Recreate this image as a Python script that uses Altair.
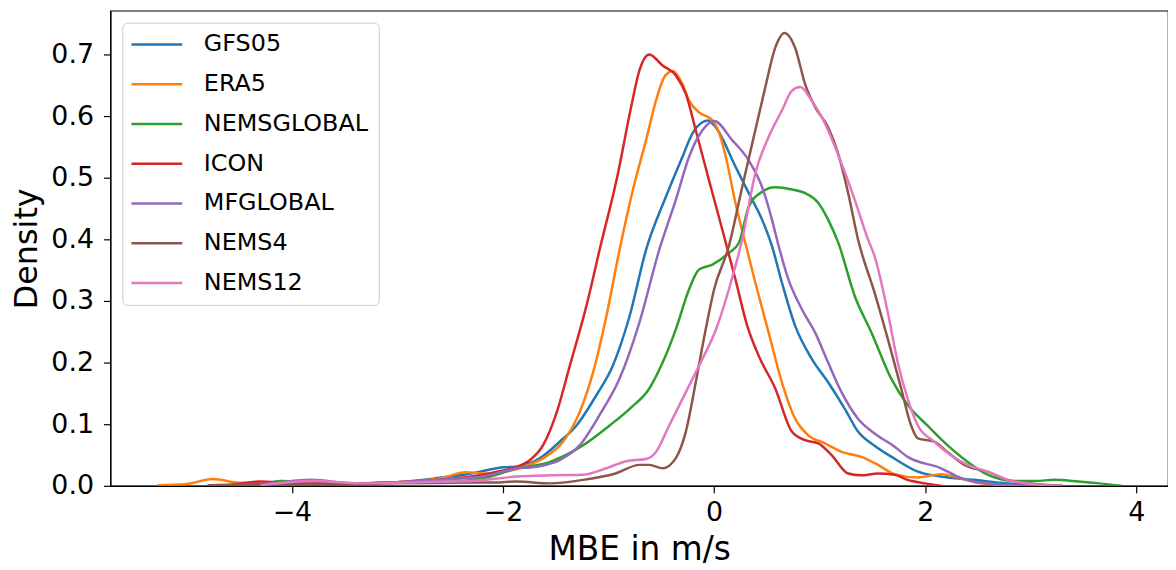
import altair as alt
import pandas as pd

series = ["GFS05", "ERA5", "NEMSGLOBAL", "ICON", "MFGLOBAL", "NEMS4", "NEMS12"]
colors = ["#1f77b4", "#ff7f0e", "#2ca02c", "#d62728", "#9467bd", "#8c564b", "#e377c2"]

gfs05_x = [-4.4, -4.0, -3.5, -3.0, -2.6, -2.3, -2.0, -1.87, -1.65, -1.46, -1.304, -1.116, -0.96, -0.80,
           -0.645, -0.457, -0.3, -0.205, -0.111, -0.06, 0.014, 0.202, 0.328, 0.454, 0.548, 0.642, 0.767,
           0.925, 1.08, 1.238, 1.363, 1.52, 1.71, 1.93, 2.15, 2.46, 2.78, 3.0, 3.2]
gfs05_y = [0.001, 0.004, 0.004, 0.006, 0.013, 0.02, 0.03, 0.031, 0.045, 0.072, 0.098, 0.147, 0.195, 0.276,
           0.383, 0.469, 0.534, 0.572, 0.59, 0.593, 0.582, 0.518, 0.475, 0.432, 0.389, 0.33, 0.26,
           0.206, 0.168, 0.125, 0.088, 0.065, 0.044, 0.023, 0.015, 0.0097, 0.004, 0.002, 0.0]

era5_x = [-5.27, -5.0, -4.75, -4.5, -4.0, -3.5, -3.0, -2.6, -2.35, -2.15, -1.95, -1.806, -1.618, -1.43,
          -1.273, -1.147, -1.02, -0.896, -0.77, -0.645, -0.551, -0.473, -0.394, -0.3, -0.237, -0.143,
          -0.017, 0.061, 0.108, 0.202, 0.297, 0.39, 0.516, 0.642, 0.767, 0.893, 1.05, 1.207, 1.395,
          1.552, 1.71, 1.93, 2.15, 2.34, 2.53, 2.75, 2.9]
era5_y = [0.001, 0.003, 0.011, 0.005, 0.003, 0.004, 0.006, 0.012, 0.022, 0.02, 0.024, 0.031, 0.045, 0.072,
          0.12, 0.184, 0.276, 0.383, 0.48, 0.561, 0.625, 0.663, 0.673, 0.652, 0.625, 0.606,
          0.593, 0.566, 0.536, 0.459, 0.393, 0.33, 0.249, 0.168, 0.109, 0.082, 0.069, 0.055, 0.047,
          0.034, 0.019, 0.0135, 0.019, 0.012, 0.004, 0.001, 0.0]

nemsglobal_x = [-4.3, -4.1, -3.8, -3.5, -3.0, -2.6, -2.2, -1.87, -1.555, -1.24, -0.99, -0.80, -0.614,
                -0.488, -0.363, -0.237, -0.143, -0.017, 0.14, 0.234, 0.328, 0.454, 0.579, 0.736, 0.862,
                0.987, 1.08, 1.175, 1.332, 1.49, 1.678, 1.834, 2.02, 2.21, 2.40, 2.59, 2.84, 3.05, 3.22,
                3.45, 3.65, 3.86]
nemsglobal_y = [0.001, 0.008, 0.004, 0.003, 0.005, 0.006, 0.012, 0.028, 0.039, 0.066, 0.098, 0.125, 0.158,
                0.2, 0.254, 0.319, 0.351, 0.359, 0.378, 0.394, 0.453, 0.477, 0.4845, 0.481, 0.475,
                0.459, 0.432, 0.395, 0.308, 0.249, 0.174, 0.131, 0.098, 0.066, 0.039, 0.018, 0.008, 0.008,
                0.0097, 0.007, 0.004, 0.0]

icon_x = [-4.6, -4.3, -4.0, -3.5, -3.0, -2.6, -2.3, -2.0, -1.87, -1.744, -1.62, -1.49, -1.367, -1.21,
          -1.085, -0.911, -0.786, -0.708, -0.614, -0.488, -0.363, -0.268, -0.174, -0.049, 0.077, 0.202,
          0.313, 0.422, 0.579, 0.736, 0.862, 0.987, 1.113, 1.27, 1.395, 1.55, 1.71, 1.834, 2.0, 2.15]
icon_y = [0.001, 0.007, 0.004, 0.004, 0.006, 0.01, 0.015, 0.025, 0.031, 0.042, 0.066, 0.12, 0.195, 0.292,
          0.383, 0.507, 0.615, 0.674, 0.700, 0.682, 0.666, 0.636, 0.577, 0.496, 0.416, 0.335,
          0.26, 0.211, 0.158, 0.088, 0.074, 0.069, 0.050, 0.020, 0.017, 0.020, 0.018, 0.0097, 0.004, 0.0]

mfglobal_x = [-4.5, -4.2, -3.82, -3.4, -3.0, -2.6, -2.2, -1.87, -1.68, -1.46, -1.273, -1.085, -0.896,
              -0.708, -0.52, -0.363, -0.237, -0.111, 0.0, 0.171, 0.328, 0.454, 0.548, 0.61, 0.704, 0.83,
              0.956, 1.08, 1.207, 1.363, 1.52, 1.71, 1.834, 2.15, 2.34, 2.56, 2.9, 3.3]
mfglobal_y = [0.001, 0.004, 0.0097, 0.004, 0.006, 0.01, 0.015, 0.028, 0.031, 0.042, 0.066, 0.115, 0.174,
              0.265, 0.383, 0.464, 0.534, 0.577, 0.592, 0.561, 0.528, 0.485, 0.432, 0.39, 0.335, 0.287,
              0.249, 0.2, 0.152, 0.109, 0.085, 0.0635, 0.047, 0.0285, 0.0124, 0.0044, 0.001, 0.0]

nems4_x = [-4.8, -4.0, -3.0, -2.5, -2.0, -1.87, -1.555, -1.24, -0.927, -0.708, -0.614, -0.488, -0.363,
           -0.268, -0.174, -0.08, 0.0, 0.14, 0.266, 0.39, 0.485, 0.579, 0.667, 0.767, 0.862, 0.956, 1.08,
           1.175, 1.27, 1.363, 1.52, 1.646, 1.772, 1.866, 1.93, 2.086, 2.21, 2.37, 2.59, 2.78, 3.0, 3.3]
nems4_y = [0.001, 0.003, 0.004, 0.005, 0.006, 0.007, 0.004, 0.0097, 0.0205, 0.034, 0.034, 0.0285, 0.045,
           0.088, 0.168, 0.254, 0.319, 0.389, 0.485, 0.577, 0.647, 0.711, 0.735, 0.711, 0.652, 0.615, 0.582,
           0.539, 0.475, 0.40, 0.3135, 0.238, 0.158, 0.098, 0.077, 0.0716, 0.055, 0.034, 0.023, 0.0097,
           0.004, 0.0]

nems12_x = [-4.3, -3.8, -3.3, -2.8, -2.3, -1.87, -1.555, -1.24, -1.02, -0.833, -0.645, -0.551, -0.426,
            -0.268, -0.111, 0.014, 0.14, 0.266, 0.39, 0.516, 0.642, 0.736, 0.815, 0.925, 1.05, 1.207,
            1.332, 1.458, 1.52, 1.646, 1.74, 1.834, 1.93, 2.086, 2.24, 2.40, 2.59, 2.78, 3.0, 3.3]
nems12_y = [0.001, 0.008, 0.004, 0.006, 0.008, 0.015, 0.017, 0.018, 0.0285, 0.04, 0.0435, 0.055, 0.098,
            0.152, 0.206, 0.252, 0.319, 0.40, 0.507, 0.566, 0.609, 0.641, 0.647, 0.625, 0.588, 0.523,
            0.464, 0.40, 0.3726, 0.281, 0.2, 0.141, 0.098, 0.0716, 0.05, 0.034, 0.023, 0.0097, 0.003, 0.0]

x_ticks = [-4, -2, 0, 2, 4]
y_ticks = [0.0, 0.1, 0.2, 0.3, 0.4, 0.5, 0.6, 0.7]

all_x = [gfs05_x, era5_x, nemsglobal_x, icon_x, mfglobal_x, nems4_x, nems12_x]
all_y = [gfs05_y, era5_y, nemsglobal_y, icon_y, mfglobal_y, nems4_y, nems12_y]

rows = []
for name, xs, ys in zip(series, all_x, all_y):
    for xv, yv in zip(xs, ys):
        rows.append({"model": name, "mbe": xv, "density": yv})
df = pd.DataFrame(rows)

FONT = "DejaVu Sans"

chart = (
    alt.Chart(df)
    .mark_line(strokeWidth=2.5, interpolate="monotone", clip=True)
    .encode(
        x=alt.X(
            "mbe:Q",
            scale=alt.Scale(domain=[-5.72, 4.30], nice=False, zero=False),
            axis=alt.Axis(values=x_ticks, format="d", title="MBE in m/s",
                          labelPadding=7, titlePadding=8, labelFlush=False),
        ),
        y=alt.Y(
            "density:Q",
            scale=alt.Scale(domain=[0, 0.771], nice=False, zero=False),
            axis=alt.Axis(values=y_ticks, format=".1f", title="Density",
                          labelPadding=10, titlePadding=7, labelFlush=False,
                          titleFontSize=32),
        ),
        color=alt.Color(
            "model:N",
            scale=alt.Scale(domain=series, range=colors),
            legend=alt.Legend(
                title=None, orient="top-left", offset=12, padding=10,
                symbolType="M-2,0H6", symbolSize=163, symbolStrokeWidth=2.6, symbolOffset=0,
                labelFontSize=24, labelFont=FONT, labelOffset=48, rowPadding=16, labelLimit=400,
                fillColor="rgba(255,255,255,0.8)", strokeColor="#cccccc", cornerRadius=5,
                labelColor="black",
            ),
        ),
    )
    .properties(
        width=1064, height=478,
        autosize=alt.AutoSizeParams(type="none"),
        padding={"left": 103, "top": 1, "right": 0, "bottom": 90},
    )
    .configure_view(stroke="black", strokeWidth=1.2)
    .configure_axis(
        grid=False, domainColor="black", domainWidth=1.2, tickColor="black", tickWidth=1.2,
        tickSize=7, labelColor="black", titleColor="black", labelFont=FONT, titleFont=FONT,
        labelFontSize=27, titleFontSize=33, titleFontWeight="normal",
    )
)

chart.save("out.html", embed_options={"renderer": "svg", "actions": False})
